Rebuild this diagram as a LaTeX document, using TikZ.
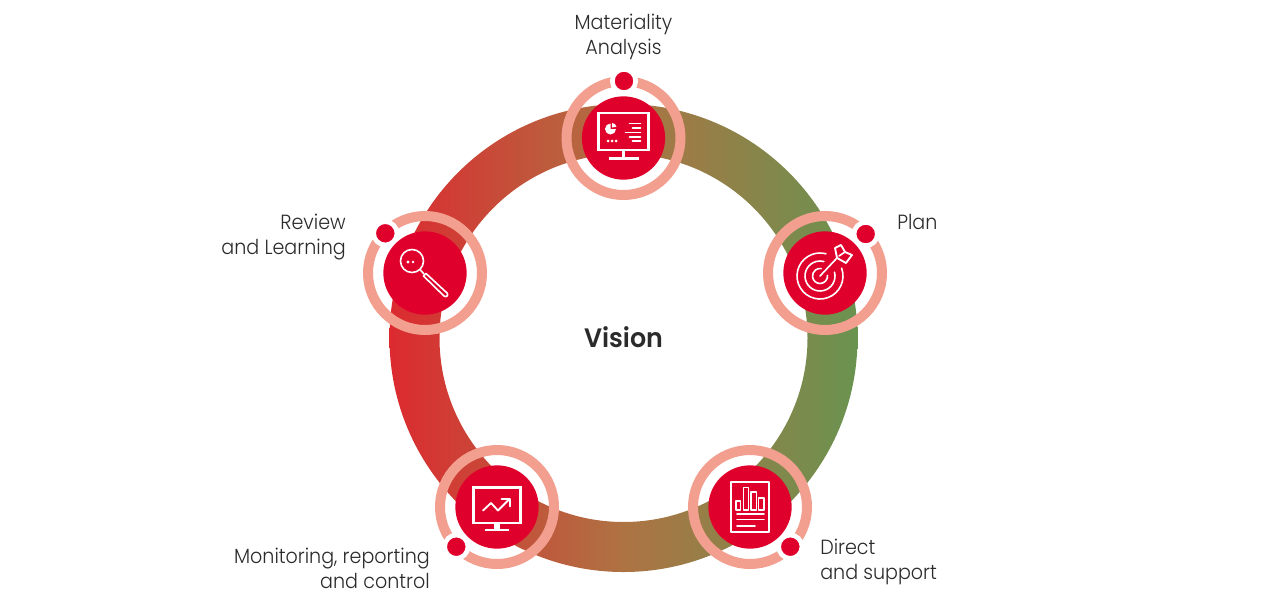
\documentclass[tikz,border=0pt]{standalone}
\usepackage{fontspec}
\setmainfont[FakeStretch=0.93]{Poppins Light}
\newfontfamily\visfont[FakeStretch=0.95]{Poppins SemiBold}
\definecolor{bandR}{HTML}{DC2A30}
\definecolor{bandM}{HTML}{AE7343}
\definecolor{bandG}{HTML}{6A9350}
\definecolor{ringred}{HTML}{E0002C}
\definecolor{halo}{HTML}{F39F90}
\definecolor{txt}{HTML}{2B2B2B}
\tikzset{
  label text/.style={text=txt,font=\fontsize{15.4pt}{18.75pt}\selectfont,inner sep=0pt,align=left},
  halo ring/.style={circle,draw=halo,line width=7.5pt,minimum size=85.5pt,inner sep=0pt},
  core/.style={circle,fill=ringred,minimum size=62.5pt,inner sep=0pt},
  badge/.style={circle,fill=ringred,draw=white,line width=3.5pt,minimum size=17.5pt,inner sep=0pt},
  icon/.style={draw=white,line width=1.2pt,line cap=round,line join=round},
  iconb/.style={draw=white,line width=1.9pt,line join=miter}
}
\begin{document}
\begin{tikzpicture}[x=0.75pt,y=-0.75pt]
\useasboundingbox (0,0) rectangle (1270,600);
\fill[white] (0,0) rectangle (1270,600);
\shade[left color=bandR,right color=bandG,middle color=bandM,even odd rule] (623.5,338) circle (234) (623.5,338) circle (184);
\node[halo ring] (h1) at (623.5,138) {};
\node[halo ring] (h2) at (825,273) {};
\node[halo ring] (h3) at (750,507) {};
\node[halo ring] (h4) at (497,507) {};
\node[halo ring] (h5) at (425,273) {};
\node[core] (c1) at (623.5,138) {};
\node[core] (c2) at (825,273) {};
\node[core] (c3) at (750,507) {};
\node[core] (c4) at (497,507) {};
\node[core] (c5) at (425,273) {};
\node[badge] (b1) at (624,81) {};
\node[badge] (b2) at (865.7,234) {};
\node[badge] (b3) at (790.3,546.7) {};
\node[badge] (b4) at (456.3,546.7) {};
\node[badge] (b5) at (385.3,233.3) {};
% icon 1: presentation monitor
\begin{scope}[shift={(c1.center)}]
\draw[iconb] (-25,-25) rectangle (25,12);
\draw[iconb] (0,12) -- (0,20);
\draw[iconb] (-15,20.5) -- (15,20.5);
\fill[white] (-13,-9) -- (-13,-14.5) arc (-90:-360:5.5) -- cycle;
\fill[white] (-11.5,-10.5) -- (-11.5,-15) arc (-90:-10:4.5) -- cycle;
\foreach \x in {-15.5,-11.5,-7.5}{\fill[white] (\x,3) circle (1.5);}
\draw[icon] (6,-14.5) -- (17,-14.5) (9,-10) -- (17,-10) (2,-5.5) -- (17,-5.5) (6,-1) -- (17,-1) (9,3) -- (17,3);
\end{scope}
% icon 2: target
\begin{scope}[shift={(c2.center)}]
\draw[icon] (-5,3) ++(-20:23) arc (-20:285:23);
\draw[icon] (-5,3) ++(-15:15) arc (-15:285:15);
\draw[icon] (-5,3) ++(-5:7.5) arc (-5:280:7.5);
\draw[icon] (-5,3) -- (12,-15);
\draw[icon,line width=1.4pt] (12,-15) -- (10,-25) -- (16,-28) -- (20,-21) -- (27,-18) -- (21,-10) -- cycle;
\draw[icon] (14,-17) -- (20,-21);
\end{scope}
% icon 3: report
\begin{scope}[shift={(c3.center)}]
\draw[icon] (-19,-25) rectangle (19,25);
\draw[icon] (-14,-6) rectangle (-9.5,3);
\draw[icon] (-6.5,-19.5) rectangle (-1.5,3);
\draw[icon] (1,-15) rectangle (6.5,3);
\draw[icon] (8.5,-9) rectangle (14,3);
\draw[icon] (-13,7) -- (14,7) (-13,12.5) -- (14,12.5) (-13,19) -- (5,19);
\end{scope}
% icon 4: chart monitor
\begin{scope}[shift={(c4.center)}]
\draw[iconb] (-23.5,-19.5) rectangle (23.5,16);
\fill[white] (-3,16) rectangle (3,23);
\draw[iconb] (-12,23) -- (12,23);
\draw[icon,line width=1.4pt] (-14,3.5) -- (-6,-4) -- (1,3.5) -- (12,-7.5);
\draw[icon,line width=1.4pt] (4.5,-8) -- (13,-8) -- (13,-.5);
\end{scope}
% icon 5: magnifier
\begin{scope}[shift={(c5.center)}]
\draw[icon] (-13,-12) circle (11.5);
\draw[icon] (-5,-3.5) -- (-1,1);
\draw[icon] (-1.5,3) -- (1,.5) -- (22,20) .. controls (24,22) and (21,25) .. (19,23) -- cycle;
\fill[white] (-17,-11) circle (1.6) (-12,-11) circle (1.3);
\end{scope}
\node[label text,align=center] (t1) at (623.5,37) {Materiality\\Analysis};
\node[label text,anchor=west] (t2) at (897,222) {Plan};
\node[label text,anchor=west] (t3) at (820,562) {Direct\\and support};
\node[label text,anchor=east,align=right] (t4) at (430,568.5) {Monitoring, reporting\\and control};
\node[label text,anchor=east,align=right] (t5) at (346,237.5) {Review\\and Learning};
\node[text=txt,font=\visfont\fontsize{20pt}{24pt}\selectfont,inner sep=0pt] (v) at (623.5,337) {Vision};
\end{tikzpicture}
\end{document}
